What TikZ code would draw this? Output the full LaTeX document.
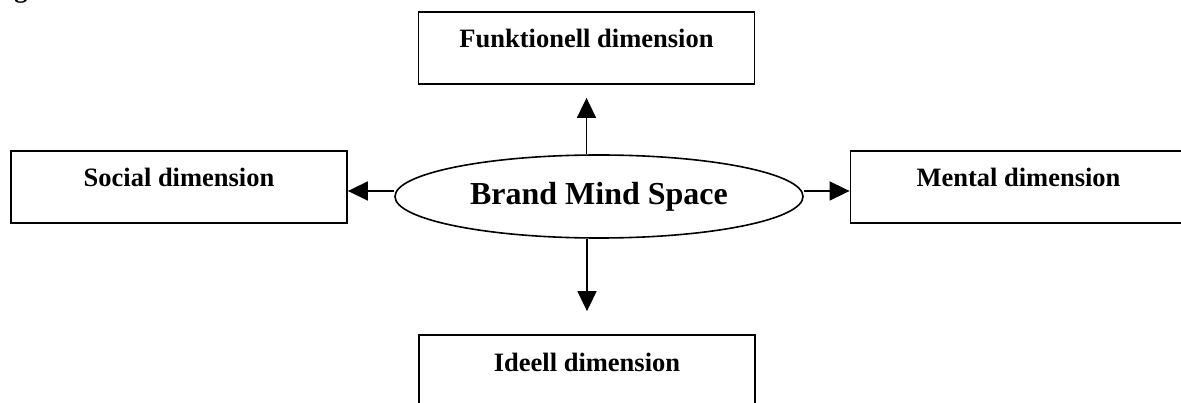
\documentclass[tikz,border=0pt]{standalone}
\usepackage{fontspec}
\setmainfont{Liberation Serif}
\usetikzlibrary{arrows.meta,shapes.geometric,calc}
\begin{document}
\begin{tikzpicture}[x=1pt,y=-1pt,
  dimbox/.style={draw,line width=1.8pt,inner xsep=0pt,inner ysep=0pt,
    text height=36pt,text depth=36pt,minimum width=336pt,
    font=\bfseries\fontsize{26.5}{30}\selectfont},
  hub/.style={draw,ellipse,line width=1.6pt,inner sep=0pt,
    minimum width=408pt,minimum height=83pt,
    font=\bfseries\fontsize{32}{36}\selectfont},
  arr/.style={line width=1.6pt,-{Triangle[length=20pt,width=19pt]}}]
\useasboundingbox (0,0) rectangle (1181,403);
% caption line above the figure, mostly outside the page
\node[anchor=base,font=\bfseries\fontsize{26.5}{30}\selectfont] (cap) at (21,-2) {g};
% the four dimensions
\node[dimbox] (fun) at (586.5,48) {Funktionell dimension};
\node[dimbox] (soc) at (179,187) {Social dimension};
\node[dimbox] (men) at (1018.5,187) {Mental dimension};
\node[dimbox] (ide) at (587,371) {Ideell dimension};
% centre
\node[hub] (bms) at (599,196.5) {Brand Mind Space};
% connectors
\draw[arr,shorten >=13pt] (bms.north -| fun.south) -- (fun.south);
\draw[arr,shorten >=23pt] (bms.south -| ide.north) -- (ide.north);
\draw[arr] ($(bms.west)+(0,-5.5)$) -- ($(soc.east)+(0,4)$);
\draw[arr] ($(bms.east)+(0,-5.5)$) -- ($(men.west)+(0,4)$);
\end{tikzpicture}
\end{document}
